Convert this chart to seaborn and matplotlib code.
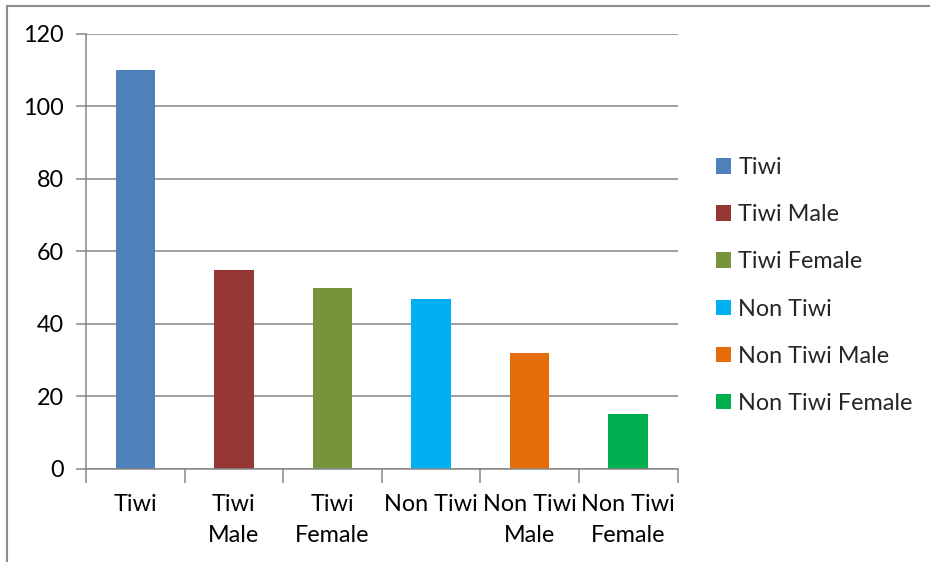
import matplotlib
matplotlib.use("Agg")
import matplotlib.pyplot as plt
from matplotlib.lines import Line2D
from matplotlib.patches import Patch
import seaborn as sns
import pandas as pd

categories = ["Tiwi", "Tiwi Male", "Tiwi Female", "Non Tiwi", "Non Tiwi Male", "Non Tiwi Female"]
tick_labels = ["Tiwi", "Tiwi\nMale", "Tiwi\nFemale", "Non Tiwi", "Non Tiwi\nMale", "Non Tiwi\nFemale"]
values = [110, 55, 50, 47, 32, 15]
colors = ["#4F81BD", "#953735", "#77933C", "#00B0F0", "#E46C0A", "#00B050"]

sns.set_theme(style="white")
plt.rcParams["font.family"] = ["Lato", "DejaVu Sans"]

FS = 16.8

df = pd.DataFrame({"group": categories, "count": values})

fig = plt.figure(figsize=(9.3, 5.62), dpi=100)
ax = fig.add_axes([86 / 930, 1 - 468.8 / 562, (677.5 - 86) / 930, (468.8 - 34) / 562])

sns.barplot(data=df, x="group", y="count", hue="group", palette=colors,
            width=0.40, dodge=False, legend=False, ax=ax, saturation=1, linewidth=0)

grid_c = "#868686"
ax.set_xlim(-0.5, 5.5)
ax.set_ylim(0, 120)
ax.set_yticks(range(0, 121, 20))
ax.yaxis.grid(True, color=grid_c, linewidth=1.1)
ax.set_axisbelow(True)
for side in ["top", "right"]:
    ax.spines[side].set_visible(False)
for side in ["left", "bottom"]:
    ax.spines[side].set_color(grid_c)
    ax.spines[side].set_linewidth(1.1)

ax.set_xlabel("")
ax.set_ylabel("")
ax.set_xticks(range(6))
ax.set_xticklabels(tick_labels, fontsize=FS, color="black", va="top", linespacing=1.62)
ax.set_xticks([i - 0.5 for i in range(7)], minor=True)
ax.tick_params(axis="x", which="major", length=0, pad=18)
ax.tick_params(axis="x", which="minor", length=10, width=1.1, color=grid_c, direction="out")
ax.tick_params(axis="y", which="major", length=7, width=1.1, color=grid_c, direction="out",
               labelsize=FS, labelcolor="black", pad=9)
ax.tick_params(axis="y", left=True)
ax.tick_params(axis="x", which="minor", bottom=True)

handles = [Patch(facecolor=c, edgecolor="none") for c in colors]
fig.legend(handles, categories, loc="center left", bbox_to_anchor=(716 / 930, 1 - 285.5 / 562),
           frameon=False, fontsize=FS, handlelength=0.65, handleheight=0.65,
           handletextpad=0.3, labelspacing=1.12, borderaxespad=0, borderpad=0)

# outer frame along the top and left edges
fig.add_artist(Line2D([6.5 / 930, 1], [1 - 5.5 / 562, 1 - 5.5 / 562], color="#8c8c8c", linewidth=1.5,
                      transform=fig.transFigure))
fig.add_artist(Line2D([6.5 / 930, 6.5 / 930], [0, 1 - 5.5 / 562], color="#8c8c8c", linewidth=1.5,
                      transform=fig.transFigure))

fig.savefig("out.png", dpi=100)
